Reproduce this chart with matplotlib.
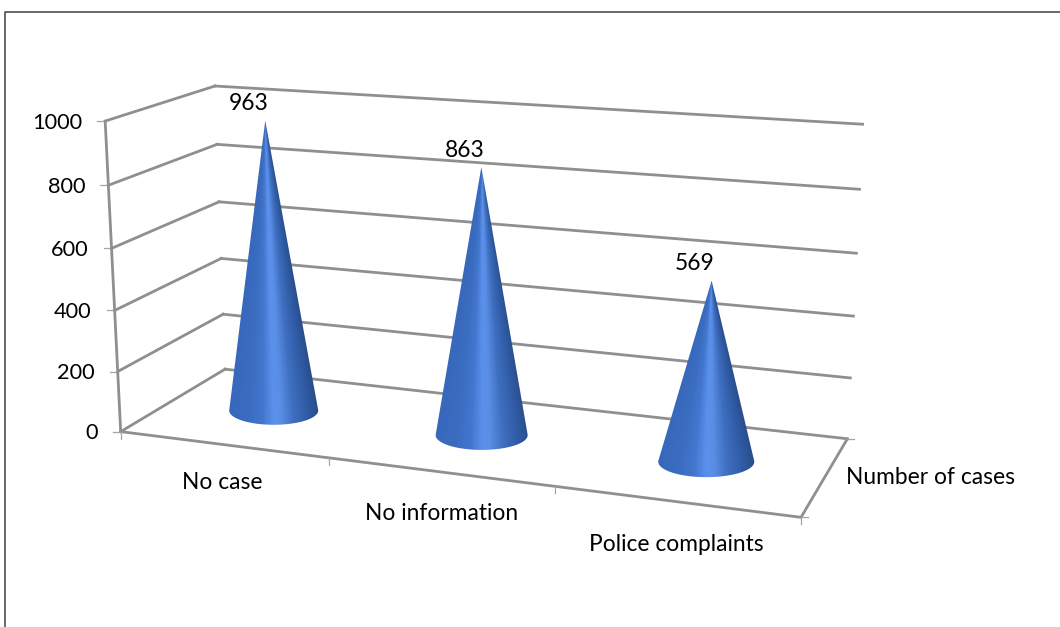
import numpy as np
import matplotlib
matplotlib.use("Agg")
import matplotlib.pyplot as plt
from matplotlib.colors import LinearSegmentedColormap
from matplotlib.patches import Polygon

# ---- chart data ----
categories = ["No case", "No information", "Police complaints"]
values = [963, 863, 569]
value_ticks = [0, 200, 400, 600, 800, 1000]
series_name = "Number of cases"

# ---- scene set-up: reference points (u along categories, value, w depth) -> pixel ----
calib_world = [
    (0, 0, 0), (0, 200, 0), (0, 400, 0), (0, 600, 0), (0, 800, 0), (0, 1000, 0),
    (0, 0, 1), (0, 200, 1), (0, 400, 1), (0, 600, 1), (0, 800, 1), (0, 1000, 1),
    (1, 0, 1), (1, 200, 1), (1, 400, 1), (1, 600, 1), (1, 800, 1), (1, 1000, 1),
    (1, 0, 0), (1/3, 0, 0), (2/3, 0, 0),
]
calib_pixel = [
    (121, 431), (118, 371), (115, 310), (112, 248), (108, 185), (105, 121),
    (225, 369), (223, 314), (221, 259), (219, 202), (217, 144.5), (215, 86),
    (847, 438), (851, 378), (853, 316), (857, 253), (860, 189), (862, 125),
    (801, 516), (329, 460), (555, 488),
]

def fit_camera(world, pixel):
    rows = []
    for (u, v, w), (x, y) in zip(world, pixel):
        vv = v / 1000
        rows.append([u, vv, w, 1, 0, 0, 0, 0, -x*u, -x*vv, -x*w, -x])
        rows.append([0, 0, 0, 0, u, vv, w, 1, -y*u, -y*vv, -y*w, -y])
    _, _, vt = np.linalg.svd(np.array(rows, float))
    return vt[-1].reshape(3, 4)

CAM = fit_camera(calib_world, calib_pixel)

def project(u, v, w):
    u, v, w = np.broadcast_arrays(np.asarray(u, float), np.asarray(v, float), np.asarray(w, float))
    p = np.stack([u, v / 1000, w, np.ones_like(u)], axis=0)
    q = np.tensordot(CAM, p, axes=1)
    return q[0] / q[2], q[1] / q[2]

FONT = "Lato"
FS = 16.4
FS_TICK = 15.7
GRID = "#8f8f8f"
TICK = "#a6a6a6"

fig = plt.figure(figsize=(10.6, 6.27), dpi=100, facecolor="white")
ax = fig.add_axes([0, 0, 1, 1])
ax.set_xlim(0, 1060)
ax.set_ylim(627, 0)
ax.axis("off")

# outer frame (runs off the right and bottom of the picture)
ax.plot([5, 5, 1060], [627, 12, 12], color="#404040", lw=1.1, solid_capstyle="butt")

def seg(p, q, lw=2.0, color=GRID):
    x0, y0 = project(*p)
    x1, y1 = project(*q)
    ax.plot([x0, x1], [y0, y1], color=color, lw=lw, solid_capstyle="round", zorder=2)

# gridlines on the side and back walls
for t in value_ticks:
    xs, ys = project([0, 0], [t, t], [0, 1])
    xs2, ys2 = project([0, 1], [t, t], [1, 1])
    ax.plot(xs, ys, color=GRID, lw=2.0, zorder=2)
    ax.plot(xs2, ys2, color=GRID, lw=2.0, zorder=2)
    x0, y0 = project(0, t, 0)
    ax.plot([x0 - 8, x0], [y0, y0], color=TICK, lw=0.9, zorder=2)
    ax.text(x0 - 23, y0 + 1.5, str(t), ha="right", va="center",
            family=FONT, fontsize=FS_TICK, color="black")

# floor and axes
seg((0, 0, 0), (0, 1000, 0))
seg((0, 0, 0), (1, 0, 0))
seg((1, 0, 0), (1, 0, 1))
for i in range(len(categories) + 1):
    x0, y0 = project(i / len(categories), 0, 0)
    ax.plot([x0, x0], [y0, y0 + 7], color=TICK, lw=0.9, zorder=2)
for w in (0, 1):
    xr, yr = project(1, 0, w)
    ax.plot([xr, xr + 7], [yr, yr], color=TICK, lw=0.9, zorder=2)

# cones
cmap = LinearSegmentedColormap.from_list("cone", [
    (0.00, "#3768bb"), (0.22, "#3a6cc0"), (0.38, "#4377cf"), (0.50, "#5b90ec"),
    (0.58, "#5a8ee6"), (0.72, "#3f6fc0"), (0.88, "#305ca6"), (1.00, "#2a4e8c"),
])
cone_halfwidth = [44.5, 46.0, 48.0]   # pixels on screen, grows with perspective
FLAT = 0.32                           # height / width of the base ellipse
cat_u = [(i + 0.5) / len(categories) for i in range(len(categories))]
theta = np.linspace(0, 2 * np.pi, 241)

def hull(pts):
    pts = sorted(set(map(tuple, pts)))
    def half(seq):
        out = []
        for p in seq:
            while len(out) > 1 and ((out[-1][0]-out[-2][0])*(p[1]-out[-2][1]) -
                                    (out[-1][1]-out[-2][1])*(p[0]-out[-2][0])) <= 0:
                out.pop()
            out.append(p)
        return out[:-1]
    return half(pts) + half(pts[::-1])

for name, u, val, R in zip(categories, cat_u, values, cone_halfwidth):
    bx, by = project(u, 0, 0.5)
    ex = bx + R * np.cos(theta)
    ey = by + FLAT * R * np.sin(theta)
    tipx, tipy = project(u, val, 0.5)
    poly = hull(np.column_stack([np.append(ex, tipx), np.append(ey, tipy)]))
    x0, x1 = ex.min() - 2, ex.max() + 2
    y0, y1 = tipy - 2, ey.max() + 2
    xx, yy = np.meshgrid(np.linspace(x0, x1, 400), np.linspace(y0, y1, 800))
    f = np.clip((yy - tipy) / (by - tipy), 0.005, 1)
    t = np.clip((xx - (tipx + f * (bx - tipx))) / (f * R), -1, 1)
    im = ax.imshow(t, extent=(x0, x1, y1, y0), cmap=cmap, vmin=-1, vmax=1,
                   interpolation="bilinear", aspect="auto", zorder=3)
    patch = Polygon(poly, closed=True, transform=ax.transData, fc="none", ec="none")
    ax.add_patch(patch)
    im.set_clip_path(patch)
    ax.text(tipx - 17, tipy - 17, str(val), ha="center", va="center",
            family=FONT, fontsize=FS, color="black", zorder=4)

ax.set_xlim(0, 1060)
ax.set_ylim(627, 0)

# category and series labels
label_dx = [-1.0, 1.0, 0.5]
label_dy = [38, 42, 43]
for i, name in enumerate(categories):
    x0, y0 = project((i + 0.5) / len(categories), 0, 0)
    ax.text(x0 + label_dx[i], y0 + label_dy[i], name, ha="center", va="center",
            family=FONT, fontsize=FS, color="black")
xs, ys = project(1, 0, 0.5)
ax.text(xs + 21, ys + 2, series_name, ha="left", va="center",
        family=FONT, fontsize=FS, color="black")

fig.savefig("out.png", dpi=100)
